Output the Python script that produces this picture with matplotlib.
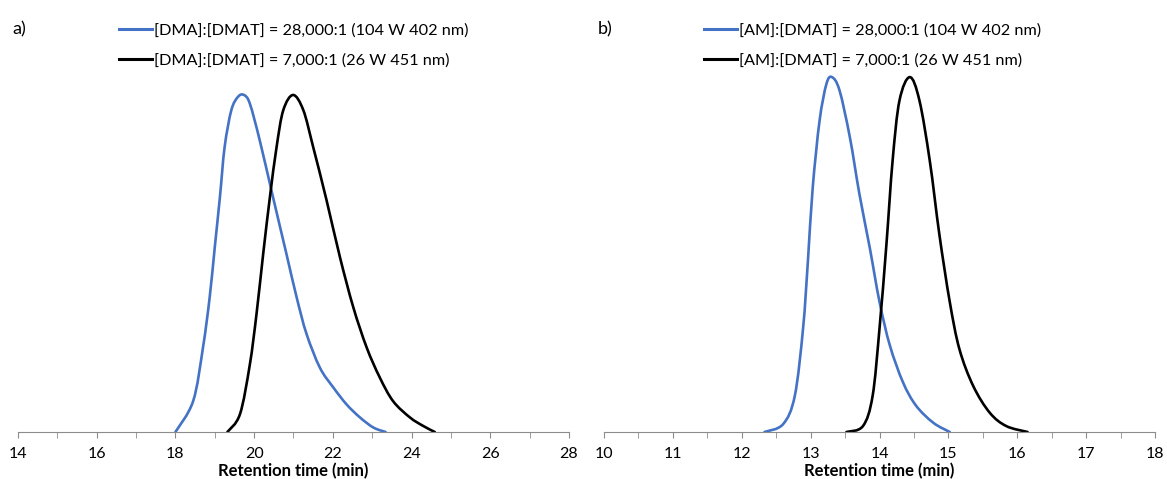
import numpy as np
import matplotlib.pyplot as plt
from matplotlib.path import Path
from matplotlib.patches import PathPatch
from matplotlib.lines import Line2D
from matplotlib.ticker import MultipleLocator

plt.rcParams.update({
    "font.family": ["Lato", "DejaVu Sans"],
    "font.size": 11,
})

BLUE = "#4472C4"

# ── a) DMA ────────────────────────────────────────────────────────────────────
dma_blue_t = [18.0, 18.45, 18.70, 18.87, 19.0, 19.13, 19.25, 19.42, 19.59, 19.74,
              19.89, 20.14, 20.48, 20.82, 21.08, 21.33, 21.67, 22.01, 22.35, 22.69,
              23.03, 23.34]
dma_blue_y = [0, .083, .227, .362, .497, .631, .766, .865, .901, .906,
              .883, .785, .631, .479, .362, .264, .173, .120, .074, .039,
              .012, 0]
dma_black_t = [19.32, 19.64, 19.89, 20.06, 20.23, 20.40, 20.57, 20.74, 20.99, 21.25,
               21.50, 21.84, 22.18, 22.52, 22.86, 23.19, 23.53, 23.96, 24.30, 24.59]
dma_black_y = [0, .048, .181, .317, .479, .631, .766, .865, .906, .865,
               .766, .623, .470, .335, .227, .147, .083, .039, .016, 0]

# ── b) AM ─────────────────────────────────────────────────────────────────────
am_blue_t = [12.33, 12.60, 12.77, 12.89, 12.96, 13.03, 13.13, 13.23, 13.31, 13.42,
             13.57, 13.71, 13.86, 14.0, 14.15, 14.34, 14.53, 14.78, 15.02]
am_blue_y = [0, .021, .097, .278, .458, .656, .837, .936, .954, .918,
             .792, .638, .494, .350, .233, .134, .071, .025, 0]
am_black_t = [13.52, 13.76, 13.90, 14.0, 14.10, 14.19, 14.29, 14.44, 14.58, 14.73,
              14.87, 15.02, 15.16, 15.36, 15.60, 15.84, 16.15]
am_black_y = [0, .016, .097, .278, .503, .729, .891, .954, .891, .729,
              .530, .350, .223, .124, .052, .016, 0]

panels = [
    dict(tag="a)", mono="DMA", xlim=(14, 28), major=2, minor=1,
         blue=(dma_blue_t, dma_blue_y), black=(dma_black_t, dma_black_y)),
    dict(tag="b)", mono="AM", xlim=(10, 18), major=1, minor=0.5,
         blue=(am_blue_t, am_blue_y), black=(am_black_t, am_black_y)),
]


def smooth_line(ax, t, y, color):
    """Excel-style smoothed line: cubic Bezier segments through the points."""
    p = np.column_stack([t, y])
    pad = np.vstack([p[0], p, p[-1]])
    verts, codes = [p[0]], [Path.MOVETO]
    for i in range(len(p) - 1):
        c1 = pad[i + 1] + (pad[i + 2] - pad[i]) / 6
        c2 = pad[i + 2] - (pad[i + 3] - pad[i + 1]) / 6
        verts += [c1, c2, pad[i + 2]]
        codes += [Path.CURVE4] * 3
    ax.add_patch(PathPatch(Path(verts, codes), fill=False, edgecolor=color,
                           lw=1.9, capstyle="round", joinstyle="round"))


W, H = 1167, 479
fig = plt.figure(figsize=(W / 100, H / 100), dpi=100)

lefts = [18, 604]
handle_x = [119, 704]
tag_x = [12, 598]
for left, hx, tx, p in zip(lefts, handle_x, tag_x, panels):
    ax = fig.add_axes([left / W, 47 / H, 551 / W, 372 / H])
    smooth_line(ax, *p["blue"], BLUE)
    smooth_line(ax, *p["black"], "black")
    ax.set_xlim(*p["xlim"])
    ax.set_ylim(0, 1)
    for s in ["top", "right", "left"]:
        ax.spines[s].set_visible(False)
    ax.spines["bottom"].set_color("#8c8c8c")
    ax.set_yticks([])
    ax.xaxis.set_major_locator(MultipleLocator(p["major"]))
    ax.xaxis.set_minor_locator(MultipleLocator(p["minor"]))
    ax.tick_params(axis="x", which="both", direction="out", length=4,
                   color="#8c8c8c", labelsize=11.5, pad=7)
    ax.set_xlabel("Retention time (min)", fontsize=12, fontweight="bold", labelpad=1)

    handles = [Line2D([], [], color=BLUE, lw=2.2), Line2D([], [], color="black", lw=2.2)]
    labels = [f"[{p['mono']}]:[DMAT] = 28,000:1 (104 W 402 nm)",
              f"[{p['mono']}]:[DMAT] = 7,000:1 (26 W 451 nm)"]
    fig.legend(handles, labels, loc="upper left",
               bbox_to_anchor=(hx / W, 1 - 23 / H), bbox_transform=fig.transFigure,
               frameon=False, fontsize=11.7, handlelength=2.05, handletextpad=0.08,
               labelspacing=1.0, borderpad=0, borderaxespad=0)
    fig.text(tx / W, 1 - 29 / H, p["tag"], fontsize=13, va="center")

fig.savefig("out.png", dpi=100)
